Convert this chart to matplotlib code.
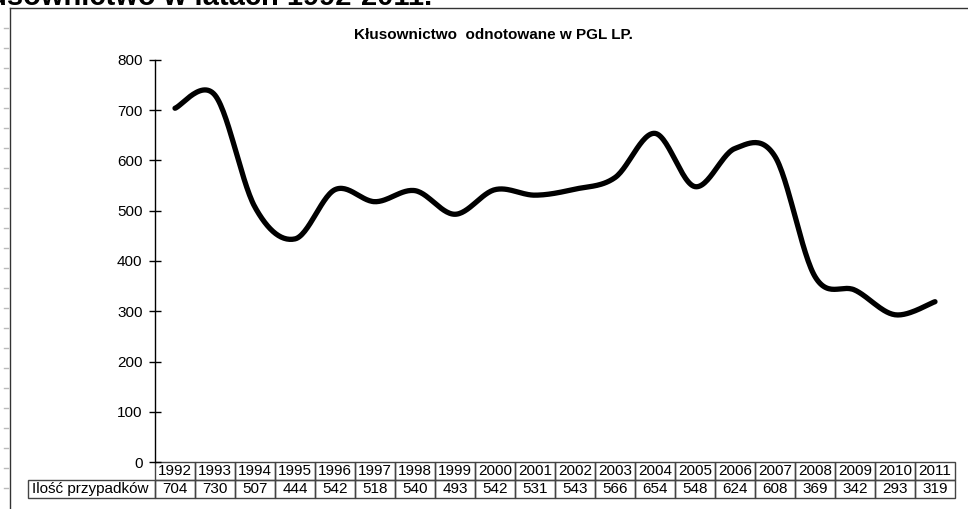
import numpy as np
import matplotlib
matplotlib.use("Agg")
import matplotlib.pyplot as plt
from matplotlib.lines import Line2D
from matplotlib.patches import Rectangle

plt.rcParams["font.family"] = ["Liberation Sans", "DejaVu Sans"]

years = ["1992", "1993", "1994", "1995", "1996", "1997", "1998", "1999", "2000", "2001",
         "2002", "2003", "2004", "2005", "2006", "2007", "2008", "2009", "2010", "2011"]
cases = [704, 730, 507, 444, 542, 518, 540, 493, 542, 531,
         543, 566, 654, 548, 624, 608, 369, 342, 293, 319]
row_label = "Ilość przypadków"
chart_title = "Kłusownictwo  odnotowane w PGL LP."
page_title = "Kłusownictwo w latach 1992-2011."
yticks = [0, 100, 200, 300, 400, 500, 600, 700, 800]


def smooth(x, y, steps=30):
    # Catmull-Rom, roughly what Excel does for a "smoothed line"
    x = np.asarray(x, float)
    y = np.asarray(y, float)
    px = np.concatenate([[x[0]], x, [x[-1]]])
    py = np.concatenate([[y[0]], y, [y[-1]]])
    xs, ys = [], []
    t = np.linspace(0, 1, steps)
    for i in range(1, len(px) - 2):
        for p, out in ((px, xs), (py, ys)):
            p0, p1, p2, p3 = p[i - 1], p[i], p[i + 1], p[i + 2]
            out.extend(0.5 * ((2 * p1) + (-p0 + p2) * t
                              + (2 * p0 - 5 * p1 + 4 * p2 - p3) * t ** 2
                              + (-p0 + 3 * p1 - 3 * p2 + p3) * t ** 3))
    return np.array(xs), np.array(ys)


W, H = 968, 509
fig = plt.figure(figsize=(W / 100, H / 100), dpi=100)

# axes box in pixels: x 155..955, y 60..462
ax = fig.add_axes([155 / W, 1 - 462 / H, 800 / W, 402 / H])

idx = np.arange(len(years))
sx, sy = smooth(idx, cases)
ax.plot(sx, sy, color="black", lw=3.8, solid_capstyle="round", solid_joinstyle="round")

ax.set_xlim(-0.5, len(years) - 0.5)
ax.set_ylim(0, 800)
ax.set_yticks(yticks)
ax.set_xticks([])
for s in ["top", "right", "bottom"]:
    ax.spines[s].set_visible(False)
ax.spines["left"].set_linewidth(1)
ax.tick_params(axis="y", direction="inout", length=8, width=1, pad=5, labelsize=11)

# data table under the plot (x in data units, y in axes fraction)
tr = ax.get_xaxis_transform()
row_h = 18 / 402
edge = "#444444"
for i, (yr, v) in enumerate(zip(years, cases)):
    for k, txt in enumerate([yr, str(v)]):
        y0 = -(k + 1) * row_h
        ax.add_patch(Rectangle((i - 0.5, y0), 1, row_h, transform=tr, fill=False,
                               edgecolor=edge, lw=1, clip_on=False))
        ax.text(i, y0 + row_h / 2, txt, transform=tr, ha="center", va="center",
                fontsize=11, clip_on=False)
label_units = 127 / 40
ax.add_patch(Rectangle((-0.5 - label_units, -2 * row_h), label_units, row_h, transform=tr,
                       fill=False, edgecolor=edge, lw=1, clip_on=False))
ax.text(-0.5 - label_units + 0.1, -1.5 * row_h, row_label, transform=tr, ha="left",
        va="center", fontsize=11, clip_on=False)

fig.text(493 / W, 1 - 35 / H, chart_title, ha="center", va="center",
         fontsize=11, fontweight="bold")
fig.text(432 / W, 1 - 5 / H, page_title, ha="right", va="baseline",
         fontsize=21, fontweight="bold")

# page frame
fig.add_artist(Line2D([10 / W, 10 / W], [0, 1 - 8 / H], color="#333333", lw=1))
fig.add_artist(Line2D([10 / W, 1], [1 - 8 / H, 1 - 8 / H], color="#333333", lw=1))
for yp in range(28, 500, 20):
    fig.add_artist(Line2D([4 / W, 8 / W], [1 - yp / H, 1 - yp / H], color="#bbbbbb", lw=1))

fig.savefig("out.png", dpi=100)
